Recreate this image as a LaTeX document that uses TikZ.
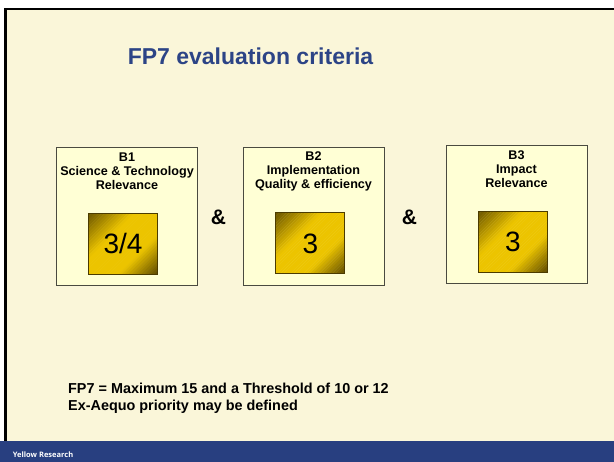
\documentclass[tikz,border=0pt]{standalone}
\usepackage{fontspec}
\setmainfont{Liberation Sans}
\newfontfamily\footfont{Open Sans}
\definecolor{cream}{HTML}{FAF6D9}
\definecolor{boxfill}{HTML}{FFFFD5}
\definecolor{navy}{HTML}{283F80}
\definecolor{titleblue}{HTML}{2C4486}
\definecolor{golddark}{HTML}{5E4A00}
\definecolor{goldbright}{HTML}{ECC400}
\definecolor{boxline}{HTML}{4A4A40}
\newcommand\goldfill[2]{%
  \begin{scope}
  \clip ({#1-34.5},{#2-30.5}) rectangle ({#1+34.5},{#2+30.5});
  \foreach \i in {0,...,39}{%
    \pgfmathsetmacro\myu{-65+\i*3.25}%
    \pgfmathsetmacro\myt{(\myu+1.625)/65}%
    \pgfmathsetmacro\myd{max(92*(-0.3-\myt)/0.7, 100*(\myt-0.4)/0.6, 0)}%
    \fill[golddark!\myd!goldbright] ({#1+\myu/2+100},{#2+\myu/2-100}) -- ({#1+\myu/2-100},{#2+\myu/2+100}) -- ({#1+\myu/2+1.8-100},{#2+\myu/2+1.8+100}) -- ({#1+\myu/2+1.8+100},{#2+\myu/2+1.8-100}) -- cycle;
  }
  \end{scope}}
\tikzset{
  critbox/.style={draw=boxline, line width=0.9pt, fill=boxfill, minimum width=141pt, minimum height=138pt, inner sep=0pt},
  score/.style={draw=golddark!80!black, line width=1pt, minimum width=69pt, minimum height=61pt, inner sep=0pt, font=\fontsize{28}{30}\selectfont},
  crittext/.style={align=center, inner sep=0pt, font=\fontsize{12.6}{14}\selectfont\bfseries},
  amp/.style={inner sep=0pt, font=\fontsize{21}{24}\selectfont\bfseries}
}
\begin{document}
\begin{tikzpicture}[x=1pt, y=-1pt]
\useasboundingbox (0,0) rectangle (614,462);
\fill[white] (0,0) rectangle (614,462);
\fill[cream] (5,8.5) rectangle (614,441);
\draw[black, line width=2.6pt] (5.3,441) -- (5.3,9) -- (614,9);
\fill[navy] (0,441) rectangle (614,462);
\node[anchor=base, text=titleblue, inner sep=0pt, font=\fontsize{23}{26}\selectfont\bfseries] (title) at (250.5,65) {FP7 evaluation criteria};
% boxes
\node[critbox] (b1) at (127,216) {};
\node[critbox] (b2) at (313.5,216) {};
\node[critbox] (b3) at (516.5,214.5) {};
\node[crittext] (t1) at (127,171) {B1\\Science \& Technology\\Relevance};
\node[crittext] (t2) at (313.5,171) {B2\\Implementation\\Quality \& efficiency};
\node[crittext] (t3) at (516.5,169.5) {B3\\Impact\\Relevance};
\goldfill{123}{243.7}
\goldfill{310.3}{243.5}
\goldfill{513}{241.8}
\node[score] (s1) at (123,243.7) {3/4};
\node[score] (s2) at (310.3,243.5) {3};
\node[score] (s3) at (513,241.8) {3};
\node[amp] (a1) at (218.5,217.5) {\&};
\node[amp] (a2) at (409.5,217) {\&};
% note
\node[anchor=base west, inner sep=0pt, font=\fontsize{14.4}{18}\selectfont\bfseries] (n1) at (68,393.3) {FP7 = Maximum 15 and a Threshold of 10 or 12};
\node[anchor=base west, inner sep=0pt, font=\fontsize{14.4}{18}\selectfont\bfseries] (n2) at (68,411) {Ex-Aequo priority may be defined};
\node[anchor=base west, inner sep=0pt, text=white, font=\footfont\fontsize{7.5}{8}\selectfont\bfseries] (foot) at (12.7,457.5) {Yellow Research};
\end{tikzpicture}
\end{document}
